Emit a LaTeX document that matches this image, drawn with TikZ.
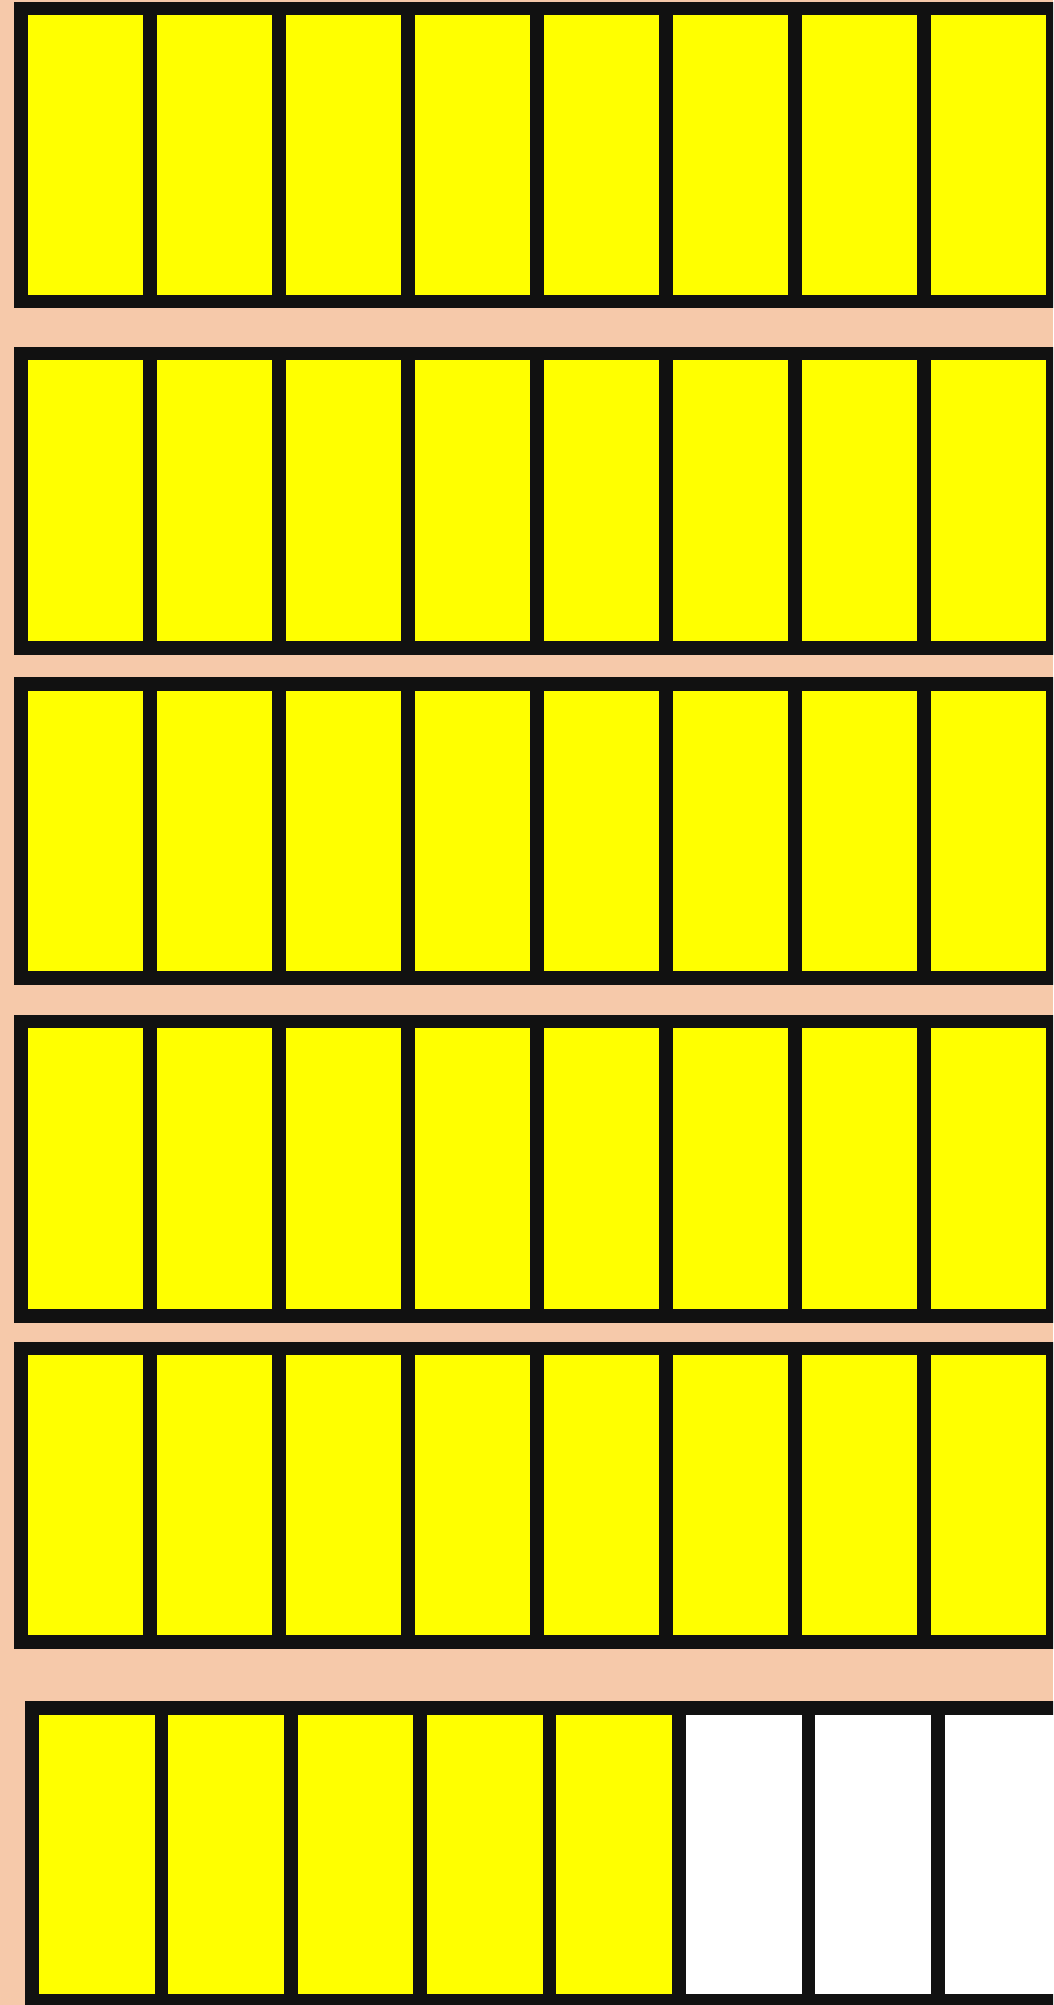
\documentclass[tikz,border=0pt]{standalone}
\usepackage{tikz}
\usepackage{xcolor}
\definecolor{peach}{RGB}{246,201,170}
\definecolor{ink}{RGB}{17,17,17}
\definecolor{lemon}{RGB}{255,255,0}

\begin{document}
\begin{tikzpicture}[x=0.01cm,y=-0.01cm,line width=3.85pt]
    \useasboundingbox (0,0) rectangle (1053,2005);
    \clip (0,0) rectangle (1053,2005);
    \fill[peach] (0,0) rectangle (1053,2005);
    % five full rows
    \foreach \top/\bot in {8.5/301.5,353.5/648,684/978,1021.5/1316,1348.5/1642}{
        \fill[lemon] (21,\top) rectangle (1053,\bot);
        \draw[ink] (21,\top) rectangle (1053,\bot);
        \foreach \i in {1,...,7}{
            \draw[ink] (21+129*\i,\top) -- (21+129*\i,\bot);
        }
    }
    % last row, five of eight filled
    \begin{scope}
        \fill[lemon] (32,1708) rectangle (679,2001);
        \fill[white] (679,1708) rectangle (1068,2001);
        \draw[ink] (32,1708) rectangle (1068,2001);
        \foreach \i in {1,...,7}{
            \draw[ink] (32+129.4*\i,1708) -- (32+129.4*\i,2001);
        }
    \end{scope}
\end{tikzpicture}
\end{document}
